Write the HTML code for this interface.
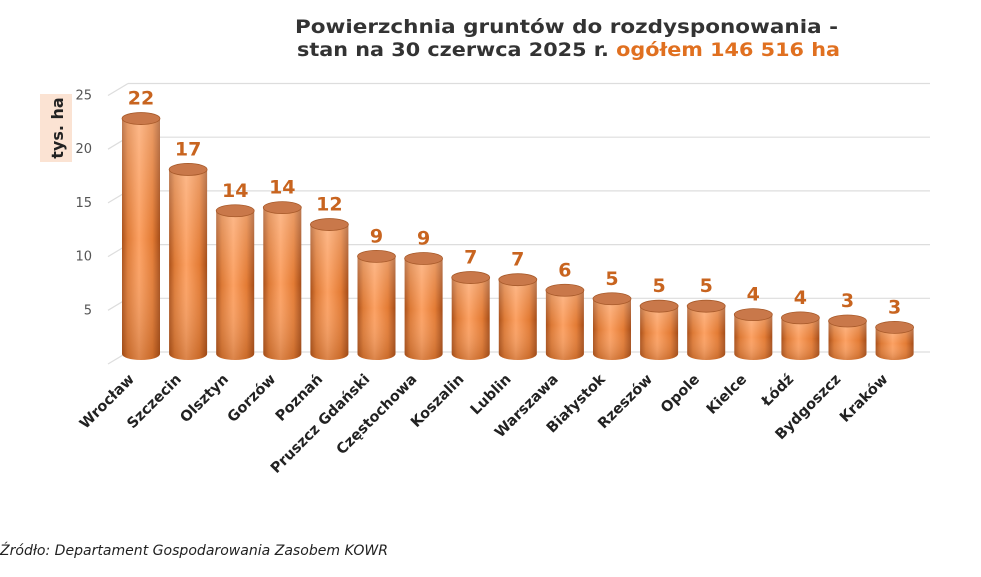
<!DOCTYPE html>
<html><head><meta charset="utf-8"><style>
body{margin:0;background:#fff;}
svg{display:block;font-family:"DejaVu Sans","Liberation Sans",sans-serif;}
</style></head><body>
<svg width="981" height="577" viewBox="0 0 981 577">
<defs>
<linearGradient id="cyl" x1="0" x2="1" y1="0" y2="0">
<stop offset="0" stop-color="#a9501a"/><stop offset="0.15" stop-color="#dd7a36"/>
<stop offset="0.45" stop-color="#fca163"/><stop offset="0.8" stop-color="#e37b34"/><stop offset="1" stop-color="#a44c18"/>
</linearGradient>
<linearGradient id="vfade" x1="0" x2="0" y1="0" y2="1">
<stop offset="0" stop-color="#fff" stop-opacity="0.25"/><stop offset="0.5" stop-color="#fff" stop-opacity="0"/><stop offset="1" stop-color="#7a3000" stop-opacity="0.25"/>
</linearGradient>
</defs>
<text x="295" y="33" textLength="543" lengthAdjust="spacingAndGlyphs" font-size="19" font-weight="bold" fill="#333">Powierzchnia gruntów do rozdysponowania -</text>
<text x="297" y="56" textLength="543" lengthAdjust="spacingAndGlyphs" font-size="19" font-weight="bold" fill="#333">stan na 30 czerwca 2025 r. <tspan fill="#e07020">ogółem 146 516 ha</tspan></text>
<rect x="40" y="94" width="32" height="68" fill="#fbe3d3"/>
<text transform="translate(63,128) rotate(-90)" text-anchor="middle" font-size="16" font-weight="bold" fill="#222">tys. ha</text>
<g id="grid"></g><g id="bars"></g><g id="labels"></g>
<text x="0" y="555" textLength="388" lengthAdjust="spacingAndGlyphs" font-size="14" font-style="italic" fill="#222">Źródło: Departament Gospodarowania Zasobem KOWR</text>
<script>
const categories=["Wrocław","Szczecin","Olsztyn","Gorzów","Poznań","Pruszcz Gdański","Częstochowa","Koszalin","Lublin","Warszawa","Białystok","Rzeszów","Opole","Kielce","Łódź","Bydgoszcz","Kraków"];
const values=[22.4,17.6,13.7,14.0,12.4,9.4,9.2,7.4,7.2,6.2,5.4,4.7,4.7,3.9,3.6,3.3,2.7];
const valueLabels=["22","17","14","14","12","9","9","7","7","6","5","5","5","4","4","3","3"];
const ticks=[5,10,15,20,25];
const NS="http://www.w3.org/2000/svg";
const y0=352, pxPer=10.74;
const y=v=>y0-v*pxPer;
const barBase=356, barPx=10.6;
const yb=v=>barBase-v*barPx;
const x=i=>141+i*47.1;
function mk(tag,attrs,parent){const e=document.createElementNS(NS,tag);for(const k in attrs)e.setAttribute(k,attrs[k]);parent.appendChild(e);return e;}
const grid=document.getElementById('grid'),bars=document.getElementById('bars'),labels=document.getElementById('labels');
[0].concat(ticks).forEach(t=>{
 const gl=mk('line',{x1:128,x2:930,y1:y(t),y2:y(t),stroke:'#ddd','stroke-width':1.2},grid);
 
 
 const sl=mk('line',{x1:108,x2:128,y1:y(t)+12,y2:y(t),stroke:'#ddd','stroke-width':1.2},grid);
 
 
});
ticks.forEach(t=>{
 const tl=mk('text',{x:92,y:y(t)+16,'text-anchor':'end','font-size':13,fill:'#555'},grid);
 tl.textContent=t;
 
 
});
const w=38,ry=6;
categories.forEach((c,i)=>{
 const cx=x(i),top=yb(values[i]),bot=barBase-2;
 const g=mk('g',{},bars);
 
 
 const d=`M${cx-w/2},${top} L${cx-w/2},${bot} A${w/2},${ry} 0 0 0 ${cx+w/2},${bot} L${cx+w/2},${top} Z`;
 mk('path',{d:d,fill:'url(#cyl)'},g);
 mk('path',{d:d,fill:'url(#vfade)'},g);
 mk('ellipse',{cx:cx,cy:top,rx:w/2,ry:ry,fill:'#c9784a',stroke:'#a85a2a','stroke-width':0.8},g);
 const vl=mk('text',{x:cx,y:top-14,'text-anchor':'middle','font-size':19,'font-weight':'bold',fill:'#c8641f'},labels);
 vl.textContent=valueLabels[i];
 
 
 const cl=mk('text',{transform:`translate(${cx-6},${y0+28}) rotate(-45)`,'text-anchor':'end','font-size':14.5,'font-weight':'bold',fill:'#222'},labels);
 cl.textContent=c;
 
 
});
</script>
</svg>
</body></html>
